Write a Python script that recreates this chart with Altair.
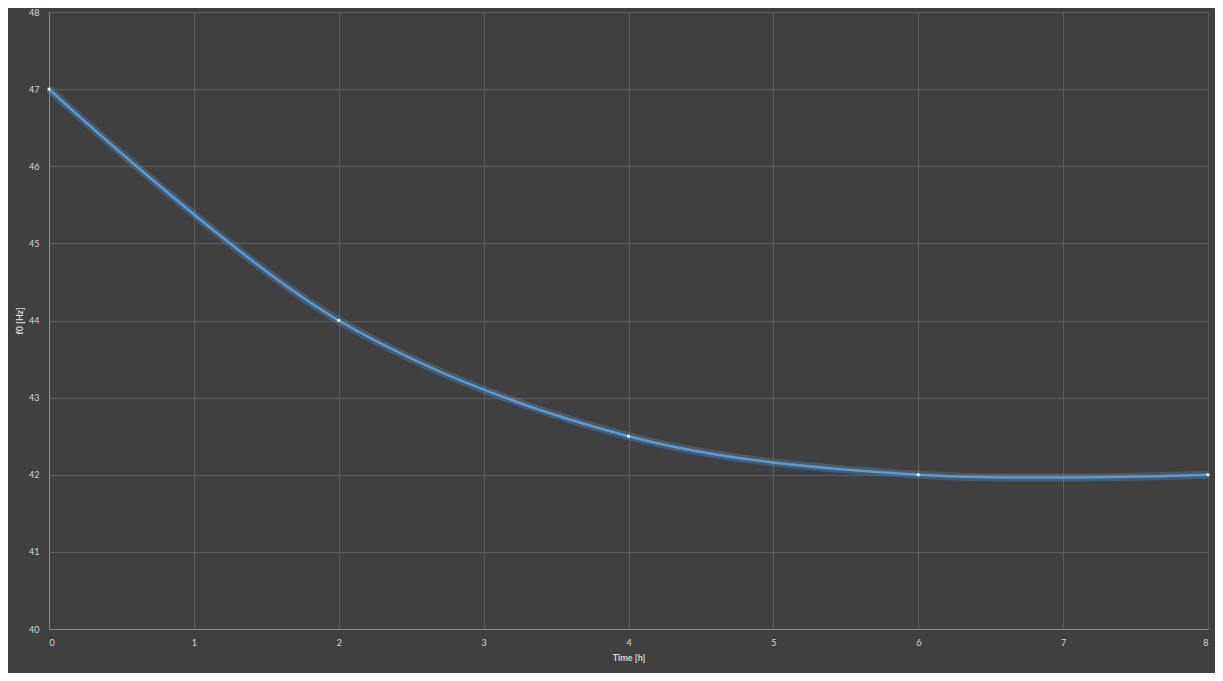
import altair as alt
import pandas as pd

time_h = [0, 2, 4, 6, 8]
f0_hz = [47, 44, 42.5, 42, 42]

df = pd.DataFrame({"t": time_h, "f": f0_hz})

FONT = "Lato"
LABEL = "#d9d9d9"

x = alt.X("t:Q", title="Time [h]",
          scale=alt.Scale(domain=[0, 8], nice=False, zero=False),
          axis=alt.Axis(values=list(range(0, 9)), format="d", grid=True,
                        gridColor="#5c5c5c", domainColor="#8a8a8a", tickSize=0,
                        labelPadding=9, labelColor=LABEL, labelFont=FONT, labelFontSize=9,
                        titleColor=LABEL, titleFont=FONT, titleFontSize=9, titleFontWeight="bold",
                        titlePadding=6))
y = alt.Y("f:Q", title="f0 [Hz]",
          scale=alt.Scale(domain=[40, 48], nice=False, zero=False),
          axis=alt.Axis(values=list(range(40, 49)), format="d", grid=True,
                        gridColor="#5c5c5c", domainColor="#8a8a8a", tickSize=0,
                        labelPadding=10, labelColor=LABEL, labelFont=FONT, labelFontSize=9,
                        titleColor=LABEL, titleFont=FONT, titleFontSize=9, titleFontWeight="bold",
                        titlePadding=4))

base = alt.Chart(df)
glow = base.mark_line(interpolate="catmull-rom", color="#5b9bd5", strokeWidth=8,
                      opacity=0.3).encode(x=x, y=y)
line = base.mark_line(interpolate="catmull-rom", color="#5b9bd5", strokeWidth=2.5).encode(x=x, y=y)
pts = base.mark_point(shape="square", filled=True, color="#e8f0f8", size=8, opacity=1).encode(x=x, y=y)

chart = (glow + line + pts).properties(
    width=1159, height=617,
    background="#404040",
    padding={"left": 41, "top": 4, "right": 7, "bottom": 44},
    autosize=alt.AutoSizeParams(type="none"),
).configure_view(stroke=None)

chart.save("out.html", embed_options={"renderer": "svg", "actions": False})
